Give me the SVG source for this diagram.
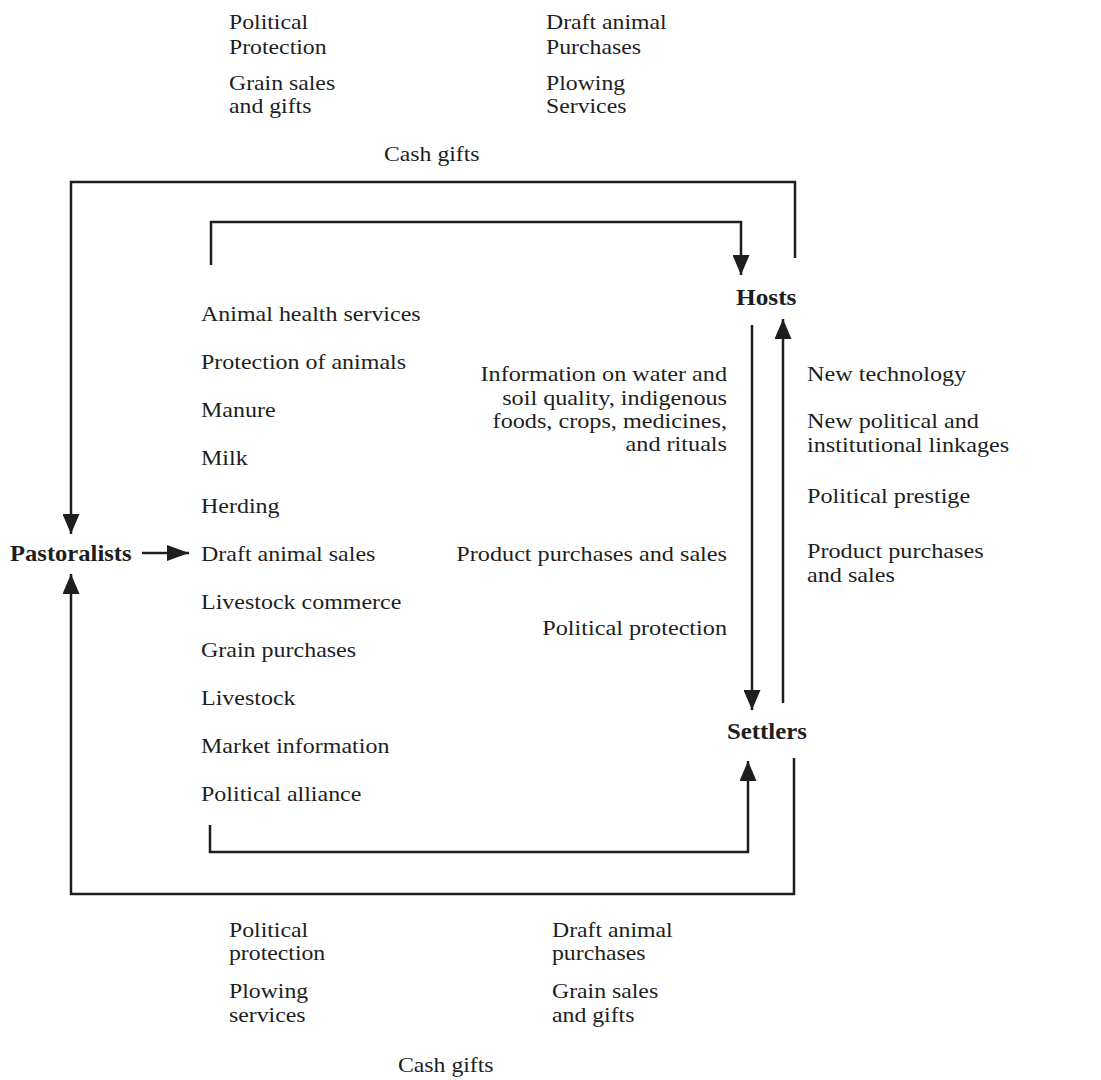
<svg xmlns="http://www.w3.org/2000/svg" width="1101" height="1080" viewBox="0 0 1101 1080">
<style>
text{font-family:"Liberation Serif","Times New Roman",serif;font-size:22px;fill:#1e1e1e}
.b{font-weight:bold;font-size:23px}
.r text{text-anchor:end}
.c{fill:none;stroke:#1e1e1e;stroke-width:2.5}
</style>
<defs>
<marker id="ah" markerUnits="userSpaceOnUse" markerWidth="20" markerHeight="17" refX="20" refY="8.5" orient="auto">
<path d="M0,0 L20,8.5 L0,17 z" fill="#1e1e1e"/>
</marker>
<marker id="ah2" markerUnits="userSpaceOnUse" markerWidth="22" markerHeight="16" refX="22" refY="8" orient="auto">
<path d="M0,0 L22,8 L0,16 z" fill="#1e1e1e"/>
</marker>
</defs>
<rect width="1101" height="1080" fill="#fff"/>
<g id="connectors">
<path class="c" d="M795,258 V182 H71 V534" marker-end="url(#ah)"/>
<path class="c" d="M211,265 V222 H741 V275" marker-end="url(#ah)"/>
<path class="c" d="M752,325 V710" marker-end="url(#ah)"/>
<path class="c" d="M783,703 V319" marker-end="url(#ah)"/>
<path class="c" d="M210,825 V852 H748 V761" marker-end="url(#ah)"/>
<path class="c" d="M794,758 V894 H71 V574" marker-end="url(#ah)"/>
<path class="c" d="M142,553 H189" marker-end="url(#ah2)"/>
</g>
<g id="Pastoralists" transform="translate(10,0) scale(1.07,1)"><text class="b" x="0" y="561">Pastoralists</text></g>
<g id="Hosts" transform="translate(736,0) scale(1.1,1)"><text class="b" x="0" y="305">Hosts</text></g>
<g id="Settlers" transform="translate(727,0) scale(1.08,1)"><text class="b" x="0" y="739">Settlers</text></g>
<g id="top-labels">
<g transform="translate(229,0) scale(1.08,1)">
<text x="0" y="29">Political</text>
<text x="0" y="54">Protection</text>
<text x="0" y="90">Grain sales</text>
<text x="0" y="113">and gifts</text>
</g>
<g transform="translate(546,0) scale(1.08,1)">
<text x="0" y="29">Draft animal</text>
<text x="0" y="54">Purchases</text>
<text x="0" y="90">Plowing</text>
<text x="0" y="113">Services</text>
</g>
<g transform="translate(384,0) scale(1.08,1)"><text x="0" y="161">Cash gifts</text></g>
</g>
<g id="pastoralist-labels" transform="translate(201,0) scale(1.09,1)">
<text x="0" y="321">Animal health services</text>
<text x="0" y="369">Protection of animals</text>
<text x="0" y="417">Manure</text>
<text x="0" y="465">Milk</text>
<text x="0" y="513">Herding</text>
<text x="0" y="561">Draft animal sales</text>
<text x="0" y="609">Livestock commerce</text>
<text x="0" y="657">Grain purchases</text>
<text x="0" y="705">Livestock</text>
<text x="0" y="753">Market information</text>
<text x="0" y="801">Political alliance</text>
</g>
<g id="host-to-settler-labels" class="r" transform="translate(727,0) scale(1.1,1)">
<text x="0" y="381">Information on water and</text>
<text x="0" y="405">soil quality, indigenous</text>
<text x="0" y="428">foods, crops, medicines,</text>
<text x="0" y="451">and rituals</text>
<text x="0" y="561">Product purchases and sales</text>
<text x="0" y="635">Political protection</text>
</g>
<g id="settler-to-host-labels" transform="translate(807,0) scale(1.1,1)">
<text x="0" y="381">New technology</text>
<text x="0" y="428">New political and</text>
<text x="0" y="452">institutional linkages</text>
<text x="0" y="503">Political prestige</text>
<text x="0" y="558">Product purchases</text>
<text x="0" y="582">and sales</text>
</g>
<g id="bottom-labels">
<g transform="translate(229,0) scale(1.08,1)">
<text x="0" y="937">Political</text>
<text x="0" y="960">protection</text>
<text x="0" y="998">Plowing</text>
<text x="0" y="1022">services</text>
</g>
<g transform="translate(552,0) scale(1.08,1)">
<text x="0" y="937">Draft animal</text>
<text x="0" y="960">purchases</text>
<text x="0" y="998">Grain sales</text>
<text x="0" y="1022">and gifts</text>
</g>
<g transform="translate(398,0) scale(1.08,1)"><text x="0" y="1072">Cash gifts</text></g>
</g>
</svg>
